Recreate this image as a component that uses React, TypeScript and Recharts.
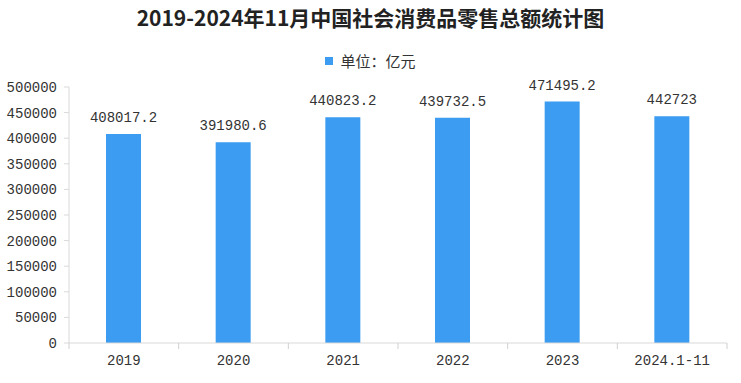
import React from "react";
import { BarChart, Bar, XAxis, YAxis, LabelList } from "recharts";

const years = ["2019", "2020", "2021", "2022", "2023", "2024.1-11"];
const sales = [408017.2, 391980.6, 440823.2, 439732.5, 471495.2, 442723];
const yTicks = [0, 50000, 100000, 150000, 200000, 250000, 300000, 350000, 400000, 450000, 500000];
const seriesName = "单位：亿元";

const data = years.map((year, i) => ({ year, value: sales[i] }));

const W = 741;
const H = 383;
const plotLeft = 69;
const plotRight = 727;
const band = (plotRight - plotLeft) / years.length;
const numFont = "'Liberation Mono', 'DejaVu Sans Mono', monospace";
const cjkFont = "'Noto Sans CJK SC', sans-serif";
const barColor = "#3b9cf2";

// x ticks sit on band boundaries, labels under the centres
const XTick = (props: any) => {
  const { x, y, payload, index } = props;
  const left = x - band / 2;
  return (
    <g>
      <line x1={left} y1={y - 8} x2={left} y2={y - 2} stroke="#d0d0d0" />
      {index === years.length - 1 && (
        <line x1={left + band} y1={y - 8} x2={left + band} y2={y - 2} stroke="#d0d0d0" />
      )}
      <text x={x} y={y + 14} textAnchor="middle" fontFamily={numFont} fontSize={14} fill="#333">
        {payload.value}
      </text>
    </g>
  );
};

export default function App() {
  return (
    <div style={{ position: "absolute", left: 0, top: 0, width: W, height: H, background: "#fff" }}>
      <div
        style={{
          position: "absolute",
          top: 2,
          left: 0,
          width: W,
          textAlign: "center",
          fontFamily: cjkFont,
          fontWeight: "bold",
          fontSize: 21,
          color: "#222",
        }}
      >
        2019-2024年11月中国社会消费品零售总额统计图
      </div>
      <div
        style={{
          position: "absolute",
          top: 50,
          left: 0,
          width: W,
          display: "flex",
          alignItems: "center",
          justifyContent: "center",
          fontFamily: cjkFont,
          fontSize: 15,
          color: "#333",
        }}
      >
        <span style={{ width: 8, height: 8, background: barColor, marginRight: 7, display: "inline-block" }} />
        {seriesName}
      </div>
      <BarChart width={W} height={H} data={data} margin={{ top: 87, right: W - plotRight, bottom: 0, left: 0 }}>
        <YAxis
          width={plotLeft}
          domain={[0, 500000]}
          ticks={yTicks}
          interval={0}
          axisLine={{ stroke: "#d9d9d9" }}
          tickLine={{ stroke: "#d9d9d9" }}
          tickSize={5}
          tickMargin={7}
          tick={{ fontFamily: numFont, fontSize: 14, fill: "#333" }}
        />
        <XAxis
          dataKey="year"
          height={40}
          interval={0}
          axisLine={{ stroke: "#d9d9d9" }}
          tickLine={false}
          tick={<XTick />}
        />
        <Bar dataKey="value" name={seriesName} fill={barColor} barSize={35} isAnimationActive={false}>
          <LabelList dataKey="value" position="top" offset={12} fontFamily={numFont} fontSize={14} fill="#333" />
        </Bar>
      </BarChart>
    </div>
  );
}
